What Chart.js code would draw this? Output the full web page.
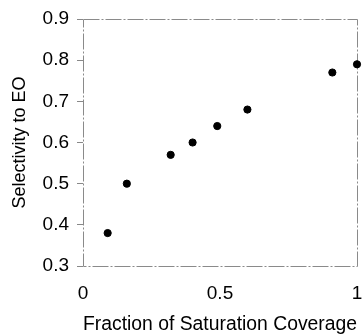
<!DOCTYPE html>
<html>
<head>
<meta charset="utf-8">
<script src="https://cdn.jsdelivr.net/npm/chart.js@4.4.1/dist/chart.umd.min.js"></script>
<style>
  html, body { margin: 0; padding: 0; background: #fff; }
  #wrap { width: 362px; height: 336px; }
</style>
</head>
<body>
<div id="wrap"><canvas id="myChart" width="362" height="336"></canvas></div>
<script>
// coverage fraction vs EO selectivity
const coverage = [0.09, 0.16, 0.32, 0.40, 0.49, 0.60, 0.91, 1.0];
const selectivity = [0.38, 0.50, 0.57, 0.60, 0.64, 0.68, 0.77, 0.79];
const yTicks = [0.3, 0.4, 0.5, 0.6, 0.7, 0.8, 0.9];
const xTicks = [0, 0.5, 1];

const points = coverage.map(function (c, i) {
  return { x: c, y: selectivity[i] };
});

const FONT = 'Liberation Sans, Arial, sans-serif';

// plot frame: scanned-looking dash-dot box around the chart area
const boxPlugin = {
  id: 'box',
  beforeDatasetsDraw(chart) {
    const a = chart.chartArea;
    const ctx = chart.ctx;
    ctx.save();
    ctx.strokeStyle = '#8a8a8a';
    ctx.lineWidth = 1;
    ctx.setLineDash([16, 2, 2, 2]);
    ctx.strokeRect(a.left + 0.5, a.top + 0.5, a.right - a.left, a.bottom - a.top);
    ctx.restore();
  },
};

const config = {
  type: 'scatter',
  data: {
    datasets: [
      {
        label: 'Selectivity',
        data: points,
        backgroundColor: '#000',
        borderColor: '#000',
        pointRadius: 3.6,
        clip: false,
      },
    ],
  },
  options: {
    responsive: false,
    animation: false,
    layout: { padding: { top: 19, right: 5, left: 0, bottom: 0 } },
    plugins: { legend: { display: false }, tooltip: { enabled: false } },
    scales: {
      x: {
        type: 'linear',
        min: 0,
        max: 1,
        afterBuildTicks: function (s) {
          s.ticks = xTicks.map(function (v) { return { value: v }; });
        },
        afterFit: function (s) {
          s.height = 70;
          s.paddingLeft = 0;
          s.paddingRight = 0;
        },
        grid: { display: false, drawTicks: false },
        border: { display: false },
        ticks: {
          color: '#000',
          padding: 16,
          maxRotation: 0,
          font: { family: FONT, size: 19 },
          callback: function (v) { return String(v); },
        },
        title: {
          display: true,
          text: 'Fraction of Saturation Coverage',
          color: '#000',
          padding: { top: 0, bottom: 0 },
          font: { family: FONT, size: 20 },
        },
      },
      y: {
        type: 'linear',
        min: 0.3,
        max: 0.9,
        afterBuildTicks: function (s) {
          s.ticks = yTicks.map(function (v) { return { value: v }; });
        },
        afterFit: function (s) {
          s.width = 83;
          s.paddingTop = 0;
          s.paddingBottom = 0;
        },
        grid: {
          drawOnChartArea: false,
          drawTicks: true,
          tickLength: 6,
          color: '#888',
        },
        border: { display: false },
        ticks: {
          color: '#000',
          padding: 8,
          font: { family: FONT, size: 19 },
          callback: function (v) { return v.toFixed(1); },
        },
        title: {
          display: true,
          text: 'Selectivity to EO',
          color: '#000',
          padding: { top: 9, bottom: 0 },
          font: { family: FONT, size: 18 },
        },
      },
    },
  },
  plugins: [boxPlugin],
};

const myChart = new Chart(document.getElementById('myChart'), config);
</script>
</body>
</html>
